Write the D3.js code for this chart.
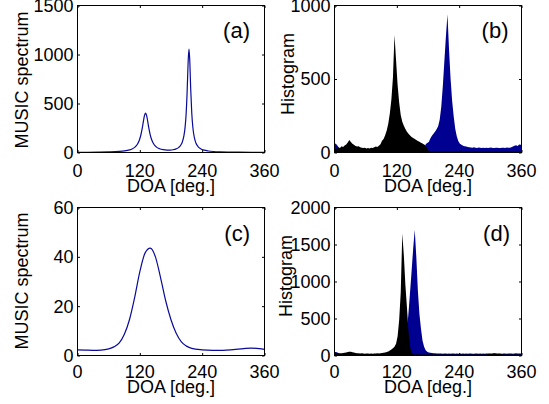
<!DOCTYPE html>
<html><head><meta charset="utf-8">
<script src="https://cdn.jsdelivr.net/npm/d3@7/dist/d3.min.js"></script>
<style>
body{margin:0;background:#fff}
text{font-family:"Liberation Sans",Arial,Helvetica,sans-serif;fill:#000}
</style>
</head><body>
<svg id="c" width="549" height="404" xmlns="http://www.w3.org/2000/svg"></svg>
<script>
// ---------- data ----------
const xTicks = [0, 120, 240, 360];
const xLabel = "DOA [deg.]";

// (a) MUSIC spectrum
const aDeg = [0,20,40,60,80,90,100,105,110,115,119,122,125,127,129,131,133,135,137,140,143,147,152,158,165,172,178,184,190,195,199,202,205,207,209,211,213,214.6,216,218,220,222,225,228,232,237,244,252,262,275,290,310,335,360];
const aVal = [2,2.6,3.7,5.8,10.6,15.9,26.4,36,52.4,82,125,178.5,258,322,379,402,379,323,259,180,127,84,55,38,28.5,24.7,25,28.3,37,52.4,76.6,110,174,251,383,611,923,1056,951,640,400,260,151,97,61,38.6,23.5,15.3,10,6.7,4.6,3,2.1,1.5];
const aTicks = [0,500,1000,1500];

// (c) MUSIC spectrum
const cDeg = [0,15,30,45,60,70,80,90,100,110,120,130,140,150,160,170,180,190,200,210,220,240,260,280,300,320,335,350,360];
const cVal = [2.3,2.2,2.1,2.2,2.7,3.5,5.0,8.5,14.5,23.5,34,41.5,43.5,40,31.5,22,14.5,9,5.5,3.8,2.9,2.3,2.1,2.1,2.4,2.8,3.0,2.8,2.5];
const cTicks = [0,20,40,60];

// histograms: 3-degree bins starting at 0,3,...,357
const binWidth = 3;
const bBlack = [22,28,35,30,42,38,48,55,68,85,72,60,52,45,40,43,36,33,30,33,28,31,27,32,30,35,41,38,46,56,
  80,92,118,150,195,265,360,510,800,630,460,340,255,210,182,160,142,128,116,106,99,92,85,78,73,67,61,55,47,28,
  10,8,7,9,6,8,7,6,8,9,7,6,8,7,9,6,7,8,6,7,9,8,6,7,8,6,9,7,6,8,7,6,7,9,8,6,7,8,7,6,9,7,8,6,7,9,6,8,7,6,8,7,9,6,8,7,6,7,8,9];
const bBlue = [62,52,38,18,8,5,6,5,4,5,6,5,5,4,6,5,5,6,4,5,5,6,5,4,5,6,5,5,4,6,
  5,5,6,4,5,5,6,5,4,5,6,5,5,4,6,5,5,6,4,5,5,6,5,4,5,6,5,5,56,64,
  72,96,114,128,142,158,178,222,310,450,620,790,940,700,500,350,245,160,108,76,60,52,46,42,40,37,36,34,33,35,
  32,31,34,33,30,32,31,33,30,32,34,31,30,33,32,31,30,32,33,31,34,32,33,35,40,46,50,45,55,52];
const bTicks = [0,500,1000];

const dBlack = [28,30,26,32,30,34,38,42,48,52,50,45,40,35,32,30,28,30,27,25,28,26,24,27,25,28,26,30,28,32,
  35,38,42,48,55,66,80,98,118,160,260,480,850,1650,1350,950,650,320,120,30,
  18,15,17,14,16,13,15,17,14,16,15,13,16,14,15,17,13,15,14,16,15,14,16,13,15,17,14,15,13,16,
  14,15,17,13,16,14,15,13,16,15,14,16,15,17,14,16,15,18,20,22,25,28,30,27,24,22,20,18,16,15,
  17,14,16,15,13,16,14,15,17,14];
const dBlue = [48,44,35,22,18,16,19,17,15,18,16,17,19,16,18,15,17,16,18,19,17,16,15,18,17,16,19,18,17,16,
  18,17,19,18,20,24,28,34,40,48,56,68,80,100,140,210,340,580,860,1150,1450,1700,1330,880,560,360,200,118,72,50,
  40,36,33,31,29,28,27,26,28,25,27,26,24,27,25,26,28,24,26,25,27,25,26,24,27,25,28,26,24,25,
  27,26,25,27,24,26,25,28,26,27,25,24,26,27,25,28,26,24,27,26,25,27,26,28,25,27,29,26,28,27];
const dTicks = [0,500,1000,1500,2000];

const blueLine = "#0a0a9a";
const blueFill = "#000091";

// ---------- drawing ----------
const svg = d3.select("#c");
const FS = 18;

function panel(o) {
  const x = d3.scaleLinear().domain([0, 360]).range([o.x0, o.x1]);
  const y = d3.scaleLinear().domain([0, o.ymax]).range([o.y1, o.y0]);
  const g = svg.append("g");
  const clipId = "clip" + o.name;
  svg.append("clipPath").attr("id", clipId).append("rect")
    .attr("x", o.x0).attr("y", o.y0).attr("width", o.x1 - o.x0).attr("height", o.y1 - o.y0);
  const plot = g.append("g").attr("clip-path", `url(#${clipId})`);
  o.draw(plot, x, y);

  g.append("rect").attr("x", o.x0).attr("y", o.y0).attr("width", o.x1 - o.x0).attr("height", o.y1 - o.y0)
    .attr("fill", "none").attr("stroke", "#000").attr("stroke-width", 1);

  const tl = 2.5;
  const axB = g.append("g").attr("transform", `translate(0,${o.y1})`)
    .call(d3.axisBottom(x).tickValues(xTicks).tickSize(-tl).tickFormat(""));
  const axT = g.append("g").attr("transform", `translate(0,${o.y0})`)
    .call(d3.axisTop(x).tickValues(xTicks).tickSize(-tl).tickFormat(""));
  const axL = g.append("g").attr("transform", `translate(${o.x0},0)`)
    .call(d3.axisLeft(y).tickValues(o.yticks).tickSize(-tl).tickFormat(""));
  const axR = g.append("g").attr("transform", `translate(${o.x1},0)`)
    .call(d3.axisRight(y).tickValues(o.yticks).tickSize(-tl).tickFormat(""));
  [axB, axT, axL, axR].forEach(a => { a.select(".domain").remove(); a.selectAll("line").attr("stroke", "#000"); });

  g.selectAll(".xt").data(xTicks).enter().append("text")
    .attr("x", d => x(d)).attr("y", o.xtY).attr("text-anchor", "middle")
    .attr("font-size", FS).text(d => d);
  g.selectAll(".yt").data(o.yticks).enter().append("text")
    .attr("x", o.x0 - 4).attr("y", d => y(d)).attr("dy", "0.36em").attr("text-anchor", "end")
    .attr("font-size", FS).text(d => d);
  g.append("text").attr("x", (o.x0 + o.x1) / 2).attr("y", o.xlY).attr("text-anchor", "middle")
    .attr("font-size", FS).text(xLabel);
  g.append("text").attr("transform", `translate(${o.ylX},${o.ylY}) rotate(-90)`)
    .attr("text-anchor", "middle").attr("font-size", FS).text(o.ylab);
  g.append("text").attr("x", o.tagX).attr("y", o.tagY).attr("text-anchor", "end")
    .attr("font-size", 22).text(`(${o.name})`);
}

function lineDraw(deg, val) {
  return (p, x, y) => {
    const pts = deg.map((d, i) => [d, val[i]]);
    p.append("path").datum(pts)
      .attr("d", d3.line().x(d => x(d[0])).y(d => y(d[1])).curve(d3.curveMonotoneX))
      .attr("fill", "none").attr("stroke", blueLine).attr("stroke-width", 1.2);
  };
}
function histDraw(black, blue) {
  return (p, x, y) => {
    const toPts = arr => {
      const pts = arr.map((v, i) => [(i + 0.5) * binWidth, v]);
      pts.unshift([0, arr[0]]);
      pts.push([arr.length * binWidth, arr[arr.length - 1]]);
      return pts;
    };
    const area = d3.area().x(d => x(d[0])).y0(y(0)).y1(d => y(d[1])).curve(d3.curveLinear);
    p.append("path").datum(toPts(blue)).attr("d", area).attr("fill", blueFill);
    p.append("path").datum(toPts(black)).attr("d", area).attr("fill", "#000");
  };
}

panel({name:"a", x0:77.5, x1:264.5, y0:5.5, y1:152.5, ymax:1500, yticks:aTicks,
  ylab:"MUSIC spectrum", ylX:28, ylY:80, xtY:177, xlY:192, tagX:250, tagY:37.5,
  draw: lineDraw(aDeg, aVal)});
panel({name:"b", x0:334.5, x1:521.5, y0:5.5, y1:152.5, ymax:1000, yticks:bTicks,
  ylab:"Histogram", ylX:293.5, ylY:74, xtY:177, xlY:192, tagX:508.5, tagY:37.5,
  draw: histDraw(bBlack, bBlue)});
panel({name:"c", x0:77.5, x1:264.5, y0:207.5, y1:355.5, ymax:60, yticks:cTicks,
  ylab:"MUSIC spectrum", ylX:28, ylY:281, xtY:377.5, xlY:392.5, tagX:250, tagY:240.5,
  draw: lineDraw(cDeg, cVal)});
panel({name:"d", x0:334.5, x1:521.5, y0:207.5, y1:355.5, ymax:2000, yticks:dTicks,
  ylab:"Histogram", ylX:291.5, ylY:276, xtY:377.5, xlY:392.5, tagX:510, tagY:241,
  draw: histDraw(dBlack, dBlue)});
</script>
</body></html>
